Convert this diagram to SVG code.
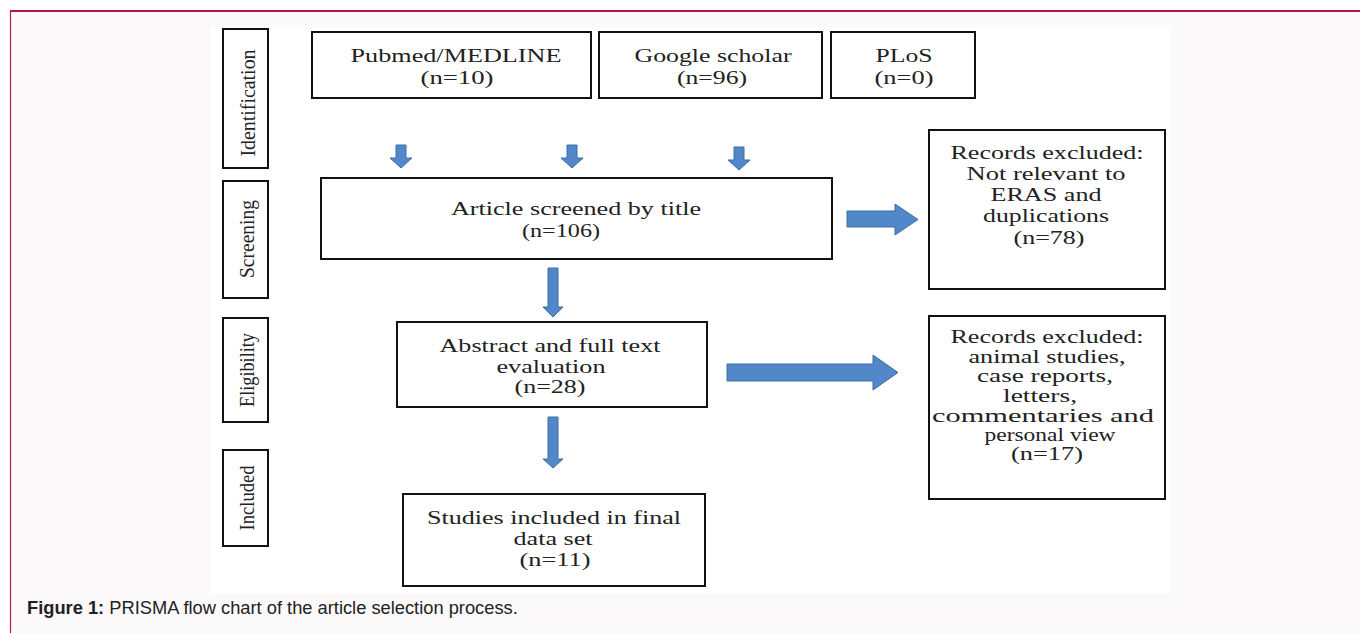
<svg xmlns="http://www.w3.org/2000/svg" width="1360" height="633" viewBox="0 0 1360 633">
<style>
.bx{fill:#fff;stroke:#111;stroke-width:2}
.t{font-family:"Liberation Serif","Times New Roman",serif;font-size:18px;fill:#222;text-anchor:middle}
.s{font-family:"Liberation Serif","Times New Roman",serif;font-size:21px;fill:#222;text-anchor:middle}
.ar{fill:#5288c9;stroke:#3d6ea6;stroke-width:1}
.cap{font-family:"Liberation Sans",Arial,sans-serif;font-size:18.3px;fill:#222}
</style>
<rect x="0" y="0" width="1360" height="633" fill="#fff"/>
<rect x="10.5" y="11" width="1360" height="640" fill="#fbf9fa" stroke="#c0163f" stroke-width="1.2"/>
<line x1="10" y1="11" x2="1360" y2="11" stroke="#b8143c" stroke-width="2"/>
<rect x="211" y="27" width="960" height="567" fill="#fff"/>

<g id="stage-identification"><rect class="bx" x="223" y="29" width="45" height="139"/><text class="s" transform="translate(255,103) rotate(-90)" textLength="107" lengthAdjust="spacingAndGlyphs">Identification</text></g>
<g id="stage-screening"><rect class="bx" x="223" y="181" width="45" height="117"/><text class="s" transform="translate(254,239) rotate(-90)" textLength="78" lengthAdjust="spacingAndGlyphs">Screening</text></g>
<g id="stage-eligibility"><rect class="bx" x="223" y="318" width="45" height="104"/><text class="s" transform="translate(254,370) rotate(-90)" textLength="74" lengthAdjust="spacingAndGlyphs">Eligibility</text></g>
<g id="stage-included"><rect class="bx" x="223" y="450" width="45" height="96"/><text class="s" transform="translate(254,498) rotate(-90)" textLength="65" lengthAdjust="spacingAndGlyphs">Included</text></g>

<g id="pubmed"><rect class="bx" x="312" y="32" width="279" height="66"/><text class="t" x="456" y="62" textLength="211" lengthAdjust="spacingAndGlyphs">Pubmed/MEDLINE</text><text class="t" x="457" y="84" textLength="73" lengthAdjust="spacingAndGlyphs">(n=10)</text></g>
<g id="google"><rect class="bx" x="599" y="32" width="223" height="66"/><text class="t" x="713" y="62" textLength="157" lengthAdjust="spacingAndGlyphs">Google scholar</text><text class="t" x="712" y="84" textLength="70" lengthAdjust="spacingAndGlyphs">(n=96)</text></g>
<g id="plos"><rect class="bx" x="831" y="32" width="144" height="66"/><text class="t" x="904" y="62" textLength="57" lengthAdjust="spacingAndGlyphs">PLoS</text><text class="t" x="904" y="84" textLength="59" lengthAdjust="spacingAndGlyphs">(n=0)</text></g>

<g id="screened"><rect class="bx" x="321" y="178" width="511" height="81"/><text class="t" x="576" y="215" textLength="250" lengthAdjust="spacingAndGlyphs">Article screened by title</text><text class="t" x="561" y="237" textLength="78" lengthAdjust="spacingAndGlyphs">(n=106)</text></g>
<g id="excluded-1"><rect class="bx" x="929" y="130" width="236" height="159"/>
<text class="t" x="1047" y="159" textLength="193" lengthAdjust="spacingAndGlyphs">Records excluded:</text>
<text class="t" x="1046" y="180" textLength="159" lengthAdjust="spacingAndGlyphs">Not relevant to</text>
<text class="t" x="1046" y="201" textLength="111" lengthAdjust="spacingAndGlyphs">ERAS and</text>
<text class="t" x="1046" y="222" textLength="126" lengthAdjust="spacingAndGlyphs">duplications</text>
<text class="t" x="1049" y="244" textLength="71" lengthAdjust="spacingAndGlyphs">(n=78)</text></g>

<g id="abstract"><rect class="bx" x="397" y="322" width="310" height="85"/><text class="t" x="550" y="352" textLength="221" lengthAdjust="spacingAndGlyphs">Abstract and full text</text><text class="t" x="551" y="373" textLength="109" lengthAdjust="spacingAndGlyphs">evaluation</text><text class="t" x="550" y="393" textLength="71" lengthAdjust="spacingAndGlyphs">(n=28)</text></g>
<g id="excluded-2"><rect class="bx" x="929" y="316" width="236" height="183"/>
<text class="t" x="1047" y="343" textLength="193" lengthAdjust="spacingAndGlyphs">Records excluded:</text>
<text class="t" x="1047" y="363" textLength="157" lengthAdjust="spacingAndGlyphs">animal studies,</text>
<text class="t" x="1045" y="382" textLength="136" lengthAdjust="spacingAndGlyphs">case reports,</text>
<text class="t" x="1040" y="402" textLength="74" lengthAdjust="spacingAndGlyphs">letters,</text>
<text class="t" x="1043" y="422" textLength="222" lengthAdjust="spacingAndGlyphs">commentaries and</text>
<text class="t" x="1050" y="441" textLength="131" lengthAdjust="spacingAndGlyphs">personal view</text>
<text class="t" x="1047" y="460" textLength="72" lengthAdjust="spacingAndGlyphs">(n=17)</text></g>

<g id="included"><rect class="bx" x="403" y="494" width="302" height="92"/><text class="t" x="554" y="524" textLength="254" lengthAdjust="spacingAndGlyphs">Studies included in final</text><text class="t" x="553" y="545" textLength="79" lengthAdjust="spacingAndGlyphs">data set</text><text class="t" x="555" y="566" textLength="71" lengthAdjust="spacingAndGlyphs">(n=11)</text></g>

<g id="connectors">
<polygon class="ar" points="396,145 406,145 406,158 412,158 401,168 390,158 396,158"/>
<polygon class="ar" points="567,145 577,145 577,158 583,158 572,168 561,158 567,158"/>
<polygon class="ar" points="734,147 744,147 744,160 750,160 739,170 728,160 734,160"/>
<polygon class="ar" points="847,211 895,211 895,204 918,219.5 895,235 895,227 847,227"/>
<polygon class="ar" points="548,268 558,268 558,307 563,307 553,317 543,307 548,307"/>
<polygon class="ar" points="727,364 873,364 873,355 898,372.5 873,390 873,381 727,381"/>
<polygon class="ar" points="548,417 558,417 558,459 563,459 553,468 543,459 548,459"/>
</g>

<text class="cap" x="27" y="614"><tspan font-weight="bold">Figure 1:</tspan> PRISMA flow chart of the article selection process.</text>
</svg>
